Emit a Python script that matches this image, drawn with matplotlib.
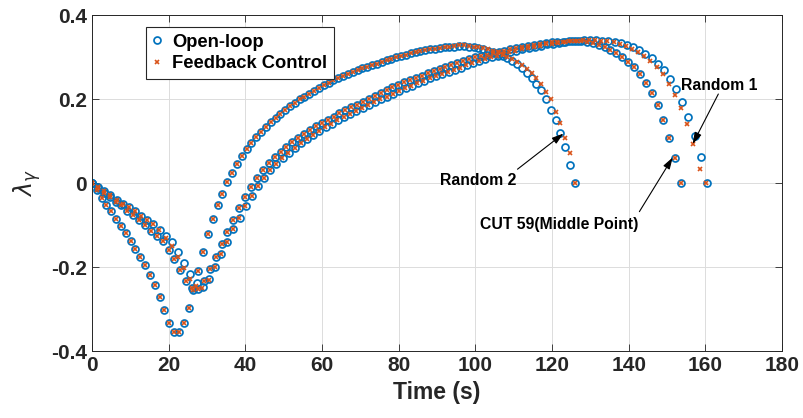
import numpy as np
import matplotlib.pyplot as plt

plt.rcParams['font.family'] = ['Liberation Sans', 'DejaVu Sans']

# 每条轨迹的结束时间 (s)，采样点均匀分布，每条 101 个点
t_end_r2 = 126.0
t_end_cut = 153.7
t_end_r1 = 160.4
t_end_r1_fb = 160.1

# Random 2 (开环)
r2_open = [
    0.0, -0.017, -0.035, -0.052, -0.067, -0.085, -0.102, -0.120, -0.137, -0.156,
    -0.175, -0.195, -0.218, -0.242, -0.271, -0.302, -0.333, -0.354, -0.354, -0.334,
    -0.298, -0.255, -0.209, -0.163, -0.122, -0.086, -0.053, -0.025, 0.002, 0.025,
    0.045, 0.064, 0.080, 0.095, 0.109, 0.122, 0.134, 0.145, 0.155, 0.165,
    0.174, 0.183, 0.191, 0.199, 0.206, 0.213, 0.220, 0.227, 0.233, 0.239,
    0.245, 0.250, 0.255, 0.260, 0.265, 0.269, 0.273, 0.277, 0.281, 0.284,
    0.288, 0.292, 0.296, 0.299, 0.303, 0.306, 0.309, 0.312, 0.314, 0.316,
    0.318, 0.320, 0.322, 0.323, 0.324, 0.325, 0.326, 0.326, 0.325, 0.323,
    0.321, 0.318, 0.315, 0.312, 0.308, 0.303, 0.298, 0.290, 0.283, 0.273,
    0.263, 0.251, 0.236, 0.221, 0.200, 0.175, 0.150, 0.120, 0.085, 0.044,
    0.0]
# Random 2 (反馈控制)，前 75 个点与开环相同
r2_fb_tail = [
    0.327, 0.328, 0.328, 0.327, 0.325, 0.323, 0.321, 0.318, 0.315, 0.311,
    0.306, 0.301, 0.295, 0.288, 0.280, 0.271, 0.261, 0.249, 0.236, 0.218,
    0.199, 0.170, 0.144, 0.108, 0.071, 0.0]
r2_fb = r2_open[:75] + r2_fb_tail

# CUT 59 (中点)
cut_open = [
    0.0, -0.012, -0.023, -0.033, -0.044, -0.053, -0.066, -0.075, -0.087, -0.099,
    -0.113, -0.125, -0.139, -0.159, -0.181, -0.207, -0.232, -0.250, -0.252, -0.232,
    -0.205, -0.176, -0.146, -0.116, -0.087, -0.059, -0.033, -0.010, 0.012, 0.032,
    0.048, 0.062, 0.075, 0.086, 0.097, 0.107, 0.117, 0.127, 0.136, 0.144,
    0.151, 0.158, 0.166, 0.173, 0.180, 0.186, 0.193, 0.200, 0.208, 0.215,
    0.222, 0.228, 0.234, 0.240, 0.246, 0.251, 0.256, 0.261, 0.266, 0.271,
    0.276, 0.281, 0.286, 0.291, 0.296, 0.300, 0.303, 0.306, 0.309, 0.312,
    0.315, 0.318, 0.321, 0.324, 0.327, 0.329, 0.331, 0.333, 0.335, 0.336,
    0.337, 0.338, 0.338, 0.338, 0.336, 0.333, 0.329, 0.324, 0.317, 0.309,
    0.301, 0.289, 0.276, 0.260, 0.239, 0.214, 0.186, 0.149, 0.108, 0.059,
    0.0]
cut_fb = list(cut_open)

# Random 1
r1_open = [
    0.0, -0.010, -0.020, -0.029, -0.040, -0.050, -0.058, -0.067, -0.078, -0.087,
    -0.098, -0.111, -0.125, -0.141, -0.164, -0.190, -0.217, -0.238, -0.247, -0.228,
    -0.200, -0.170, -0.140, -0.110, -0.082, -0.055, -0.030, -0.008, 0.012, 0.030,
    0.046, 0.060, 0.072, 0.084, 0.095, 0.105, 0.115, 0.124, 0.133, 0.141,
    0.149, 0.157, 0.164, 0.171, 0.178, 0.185, 0.192, 0.199, 0.206, 0.213,
    0.220, 0.226, 0.232, 0.238, 0.244, 0.250, 0.255, 0.260, 0.265, 0.270,
    0.275, 0.280, 0.285, 0.290, 0.295, 0.299, 0.303, 0.307, 0.311, 0.315,
    0.318, 0.321, 0.324, 0.327, 0.330, 0.332, 0.334, 0.336, 0.338, 0.339,
    0.340, 0.340, 0.340, 0.339, 0.338, 0.336, 0.333, 0.329, 0.323, 0.317,
    0.307, 0.297, 0.284, 0.268, 0.248, 0.224, 0.193, 0.157, 0.113, 0.061,
    0.0]
r1_fb = [
    0.0, -0.010, -0.020, -0.029, -0.040, -0.050, -0.058, -0.067, -0.078, -0.087,
    -0.098, -0.111, -0.130, -0.150, -0.175, -0.203, -0.228, -0.244, -0.250, -0.230,
    -0.200, -0.170, -0.140, -0.110, -0.082, -0.055, -0.030, -0.008, 0.012, 0.030,
    0.046, 0.060, 0.072, 0.084, 0.095, 0.105, 0.115, 0.124, 0.133, 0.141,
    0.149, 0.157, 0.164, 0.171, 0.178, 0.185, 0.192, 0.199, 0.206, 0.213,
    0.220, 0.226, 0.232, 0.238, 0.244, 0.250, 0.255, 0.260, 0.265, 0.270,
    0.275, 0.280, 0.285, 0.290, 0.295, 0.299, 0.303, 0.307, 0.311, 0.315,
    0.318, 0.321, 0.324, 0.327, 0.330, 0.332, 0.334, 0.336, 0.338, 0.339,
    0.340, 0.340, 0.340, 0.339, 0.338, 0.336, 0.331, 0.327, 0.320, 0.311,
    0.302, 0.290, 0.276, 0.259, 0.236, 0.210, 0.178, 0.140, 0.092, 0.033,
    0.0]

x_ticks = [0, 20, 40, 60, 80, 100, 120, 140, 160, 180]
y_ticks = [-0.4, -0.2, 0, 0.2, 0.4]
y_tick_labels = ['-0.4', '-0.2', '0', '0.2', '0.4']

blue = '#0072BD'
orange = '#D95319'
axis_col = '#262626'

fig = plt.figure(figsize=(8.04, 4.18), dpi=100)
ax = fig.add_axes([0.1144, 0.160, 0.8582, 0.804])

open_sets = [(t_end_r2, r2_open), (t_end_cut, cut_open), (t_end_r1, r1_open)]
fb_sets = [(t_end_r2, r2_fb), (t_end_cut, cut_fb), (t_end_r1_fb, r1_fb)]

for i, (t_end, y) in enumerate(open_sets):
    t = np.linspace(0, t_end, len(y))
    ax.plot(t, y, 'o', ls='none', mfc='none', mec=blue, ms=5.0, mew=1.25,
            label='Open-loop' if i == 0 else None)
for i, (t_end, y) in enumerate(fb_sets):
    t = np.linspace(0, t_end, len(y))
    ax.plot(t, y, 'x', ls='none', color=orange, ms=3.4, mew=1.2,
            label='Feedback Control' if i == 0 else None)

ax.set_xlim(0, 180)
ax.set_ylim(-0.4, 0.4)
ax.set_xticks(x_ticks)
ax.set_yticks(y_ticks)
ax.set_yticklabels(y_tick_labels)
ax.tick_params(direction='in', top=True, right=True, length=5, width=0.6,
               colors=axis_col, labelsize=15)
for lab in ax.get_xticklabels() + ax.get_yticklabels():
    lab.set_fontweight('bold')
for sp in ax.spines.values():
    sp.set_color(axis_col)
    sp.set_linewidth(0.7)
ax.grid(True, color='#dcdcdc', lw=0.7)
ax.set_axisbelow(True)

ax.set_xlabel('Time (s)', fontsize=16.5, fontweight='bold', color=axis_col, labelpad=4)
ax.set_ylabel(r'$\lambda_\gamma$', fontsize=17, color=axis_col, labelpad=6)

leg = ax.legend(loc='upper left', bbox_to_anchor=(0.078, 0.964), borderaxespad=0,
                numpoints=1, handlelength=0.5, handletextpad=0.6, fancybox=False,
                edgecolor='#262626', framealpha=1, borderpad=0.35, labelspacing=0.25,
                prop={'size': 13.2, 'weight': 'bold'})
leg.get_frame().set_linewidth(0.8)

# 标注
arrow_kw = dict(arrowstyle='-|>,head_length=0.7,head_width=0.22', color='k', lw=0.8,
                shrinkA=0, shrinkB=0)
ax.text(100.8, 0.007, 'Random 2', ha='center', va='center', fontsize=11.3, fontweight='bold')
ax.annotate('', xy=(123.0, 0.118), xytext=(111.0, 0.033), arrowprops=arrow_kw)
ax.text(121.8, -0.098, 'CUT 59(Middle Point)', ha='center', va='center', fontsize=11.3,
        fontweight='bold')
ax.annotate('', xy=(151.5, 0.061), xytext=(142.8, -0.068), arrowprops=arrow_kw)
ax.text(163.6, 0.233, 'Random 1', ha='center', va='center', fontsize=11.3, fontweight='bold')
ax.annotate('', xy=(156.7, 0.093), xytext=(163.4, 0.212), arrowprops=arrow_kw)

fig.savefig('out.png', dpi=100)
